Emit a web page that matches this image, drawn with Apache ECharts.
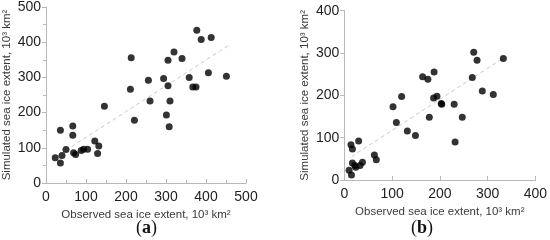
<!DOCTYPE html>
<html>
<head>
<meta charset="utf-8">
<script src="https://cdn.jsdelivr.net/npm/echarts@6/dist/echarts.min.js"></script>
<style>
  html, body { margin: 0; padding: 0; background: #fff; }
  #chart { width: 550px; height: 240px; }
</style>
</head>
<body>
<div id="chart"></div>
<script>
// panel (a): observed vs simulated, 10^3 km2
const pointsA = [
    [23, 72], [36, 57], [36, 150], [40, 78], [50, 95], [67, 162], [67, 136],
    [69, 86], [74, 81], [88, 92], [94, 96], [104, 96], [122, 119], [132, 105],
    [129, 84], [146, 218], [211, 266], [213, 356], [221, 178], [256, 292],
    [260, 233], [294, 297], [301, 193], [305, 276], [305, 349], [308, 160],
    [310, 233], [320, 372], [340, 354], [358, 300], [367, 273], [375, 273],
    [377, 434], [388, 408], [406, 313], [413, 413], [451, 303]
]
const trendA = [[64, 103], [455, 390]]

// panel (b)
const pointsB = [
    [10, 23], [15, 12], [14, 83], [17, 73], [17, 40], [22, 34], [24, 30],
    [30, 92], [33, 34], [38, 42], [63, 59], [67, 48], [102, 173], [109, 136],
    [120, 197], [132, 116], [149, 105], [164, 244], [175, 238], [178, 148],
    [187, 194], [188, 255], [194, 198], [203, 181], [204, 179], [230, 179],
    [232, 90], [247, 148], [268, 242], [271, 302], [278, 283], [289, 210],
    [312, 202], [333, 287]
]
const trendB = [[15, 55], [330, 286]]

const xTicksA = [0, 500, 100]   // min, max, interval
const yTicksA = [0, 500, 100]
const xTicksB = [0, 400, 100]
const yTicksB = [0, 400, 100]

const xName = 'Observed sea ice extent, 10³ km²'
const yName = 'Simulated sea ice extent, 10³ km²'

const chart = echarts.init(document.getElementById('chart'), null, { renderer: 'canvas' })

const axisLine = { lineStyle: { color: '#b8b8b8', width: 1 } }
const tickLabel = { color: '#1e1e1e', fontSize: 14, fontFamily: 'Liberation Sans' }
const nameStyle = { color: '#3a3a3a', fontSize: 11.5, fontFamily: 'Liberation Sans' }

function makeX(idx, ticks, minor) {
    return {
        gridIndex: idx, type: 'value',
        min: ticks[0], max: ticks[1], interval: ticks[2],
        name: xName, nameLocation: 'middle', nameGap: 23, nameTextStyle: nameStyle,
        axisLine: axisLine,
        axisTick: { show: true, inside: true, length: 4, lineStyle: { color: '#b8b8b8' } },
        minorTick: { show: minor, splitNumber: 2, length: 3, lineStyle: { color: '#b8b8b8' } },
        axisLabel: Object.assign({ margin: 7 }, tickLabel),
        splitLine: { show: false }
    }
}

function makeY(idx, ticks, minor) {
    return {
        gridIndex: idx, type: 'value',
        min: ticks[0], max: ticks[1], interval: ticks[2],
        name: yName, nameLocation: 'middle', nameGap: 33, nameTextStyle: nameStyle,
        axisLine: Object.assign({ show: true }, axisLine),
        axisTick: { show: true, inside: false, length: 4, lineStyle: { color: '#b8b8b8' } },
        minorTick: { show: minor, splitNumber: 2, length: 3, lineStyle: { color: '#b8b8b8' } },
        axisLabel: Object.assign({ margin: 5 }, tickLabel),
        splitLine: { show: false }
    }
}

function dots(idx, data) {
    return {
        type: 'scatter', xAxisIndex: idx, yAxisIndex: idx,
        symbolSize: 7, itemStyle: { color: '#000' },
        data: data, z: 3, silent: true
    }
}

function trend(idx, data) {
    return {
        type: 'line', xAxisIndex: idx, yAxisIndex: idx,
        data: data, showSymbol: false, silent: true, z: 2,
        lineStyle: { color: '#cacaca', width: 1, type: [4, 3] }
    }
}

const panelLabel = (text, x) => ({
    type: 'text', left: x, top: 219,
    style: {
        text: '(' + '{b|' + text + '}' + ')',
        font: '18px "Liberation Serif"', fill: '#111',
        rich: { b: { fontWeight: 'bold', fontSize: 18, fontFamily: 'Liberation Serif', fill: '#111' } }
    }
})

let option = {
    animation: false,
    backgroundColor: '#fff',
    grid: [
        { left: 45.5, top: 6.7, width: 200.5, height: 176.3 },
        { left: 344.3, top: 10.7, width: 194, height: 169.3 }
    ],
    xAxis: [makeX(0, xTicksA, true), makeX(1, xTicksB, false)],
    yAxis: [makeY(0, yTicksA, true), makeY(1, yTicksB, false)],
    series: [
        trend(0, trendA), dots(0, pointsA),
        trend(1, trendB), dots(1, pointsB)
    ],
    graphic: [panelLabel('a', 136), panelLabel('b', 411)]
}

chart.setOption(option)
</script>
</body>
</html>
